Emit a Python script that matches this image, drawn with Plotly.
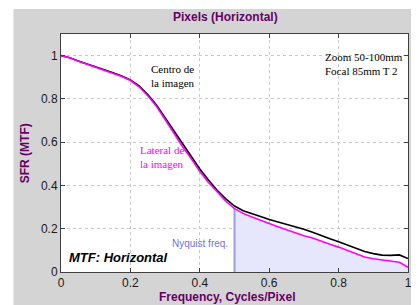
import plotly.graph_objects as go

freq = [0.0, 0.025, 0.05, 0.075, 0.1, 0.125, 0.15, 0.175, 0.2, 0.225, 0.25, 0.275,
        0.3, 0.325, 0.35, 0.375, 0.4, 0.425, 0.45, 0.475, 0.5, 0.525, 0.55, 0.575,
        0.6, 0.625, 0.65, 0.675, 0.7, 0.725, 0.75, 0.775, 0.8, 0.825, 0.85, 0.875,
        0.9, 0.925, 0.95, 0.975, 1.0]
centro = [1.0, 0.99, 0.975, 0.962, 0.948, 0.936, 0.921, 0.906, 0.888, 0.86, 0.82, 0.772,
          0.713, 0.65, 0.592, 0.537, 0.476, 0.425, 0.378, 0.338, 0.305, 0.283, 0.268, 0.256,
          0.243, 0.232, 0.222, 0.21, 0.198, 0.184, 0.168, 0.154, 0.14, 0.125, 0.108, 0.095,
          0.085, 0.078, 0.077, 0.079, 0.062]
lateral = [1.0, 0.99, 0.974, 0.96, 0.946, 0.934, 0.919, 0.904, 0.885, 0.856, 0.815, 0.766,
           0.705, 0.64, 0.58, 0.524, 0.464, 0.414, 0.368, 0.327, 0.293, 0.271, 0.254, 0.238,
           0.222, 0.209, 0.195, 0.181, 0.168, 0.157, 0.141, 0.128, 0.115, 0.1, 0.083, 0.069,
           0.061, 0.055, 0.048, 0.045, 0.022]
nyquist = 0.5
tick_vals = [0, 0.2, 0.4, 0.6, 0.8, 1]
tick_text = ["0", "0.2", "0.4", "0.6", "0.8", "1"]

PURPLE = "#660066"
SANS = "Arial, Liberation Sans, sans-serif"
SERIF = "Times New Roman, Liberation Serif, serif"

ny_x = [f for f in freq if f >= nyquist]
ny_y = [v for f, v in zip(freq, lateral) if f >= nyquist]

fig = go.Figure()
fig.add_trace(go.Scatter(x=ny_x, y=ny_y, mode="lines", line=dict(width=0),
                         fill="tozeroy", fillcolor="#e6e6fc", hoverinfo="skip",
                         showlegend=False))
fig.add_trace(go.Scatter(x=[nyquist, nyquist], y=[0, ny_y[0]], mode="lines",
                         line=dict(color="#9c9ce8", width=2), showlegend=False))
fig.add_trace(go.Scatter(x=freq, y=centro, mode="lines",
                         line=dict(color="black", width=1.6), showlegend=False))
fig.add_trace(go.Scatter(x=freq, y=lateral, mode="lines",
                         line=dict(color="#ff00ff", width=1.6), showlegend=False))

axis_common = dict(
    showgrid=True, gridcolor="#c8c8c8", griddash="dot", gridwidth=1,
    showline=True, linecolor="#404040", linewidth=1, mirror="ticks",
    ticks="inside", ticklen=4, tickcolor="#404040",
    tickvals=tick_vals, ticktext=tick_text,
    tickfont=dict(family=SANS, size=12, color="#1a1a1a"),
    zeroline=False,
)
fig.update_xaxes(range=[0, 1], **axis_common)
fig.update_yaxes(range=[0, 1.1], **axis_common)

fig.update_layout(
    width=411, height=297,
    margin=dict(l=53, r=7, t=26, b=33),
    paper_bgcolor="white", plot_bgcolor="white",
    shapes=[
        dict(type="rect", xref="paper", yref="paper", x0=-0.137, x1=1.03,
             y0=-0.15, y1=1.105, fillcolor="#d4d4d4", line=dict(width=0), layer="below"),
        dict(type="rect", xref="paper", yref="paper", x0=0, x1=1, y0=0, y1=1,
             fillcolor="white", line=dict(width=0), layer="below"),
    ],
    annotations=[
        dict(text="<b>Pixels (Horizontal)</b>", xref="paper", yref="paper",
             x=0.473, y=1.072, showarrow=False, xanchor="center", yanchor="middle",
             font=dict(family=SANS, size=12, color=PURPLE)),
        dict(text="<b>Frequency, Cycles/Pixel</b>", xref="paper", yref="paper",
             x=0.481, y=-0.107, showarrow=False, xanchor="center", yanchor="middle",
             font=dict(family=SANS, size=12, color=PURPLE)),
        dict(text="<b>SFR (MTF)</b>", xref="paper", yref="paper",
             x=-0.103, y=0.5, showarrow=False, xanchor="center", yanchor="middle",
             textangle=-90, font=dict(family=SANS, size=12, color=PURPLE)),
        dict(text="Zoom 50-100mm<br>Focal 85mm T 2", xref="paper", yref="paper",
             x=0.755, y=0.935, showarrow=False, xanchor="left", yanchor="top", align="left",
             font=dict(family=SERIF, size=11, color="black")),
        dict(text="Centro de<br>la imagen", xref="paper", yref="paper",
             x=0.253, y=0.885, showarrow=False, xanchor="left", yanchor="top", align="left",
             font=dict(family=SERIF, size=11, color="black")),
        dict(text="Lateral de<br>la imagen", xref="paper", yref="paper",
             x=0.222, y=0.545, showarrow=False, xanchor="left", yanchor="top", align="left",
             font=dict(family=SERIF, size=11, color="#ff00ff")),
        dict(text="Nyquist freq.", xref="paper", yref="paper",
             x=0.487, y=0.12, showarrow=False, xanchor="right", yanchor="middle",
             font=dict(family=SANS, size=10, color="#7272dc")),
        dict(text="<b><i>MTF: Horizontal</i></b>", xref="paper", yref="paper",
             x=0.017, y=0.062, showarrow=False, xanchor="left", yanchor="middle",
             font=dict(family=SANS, size=13, color="black")),
    ],
)

fig.write_html("out.html")
